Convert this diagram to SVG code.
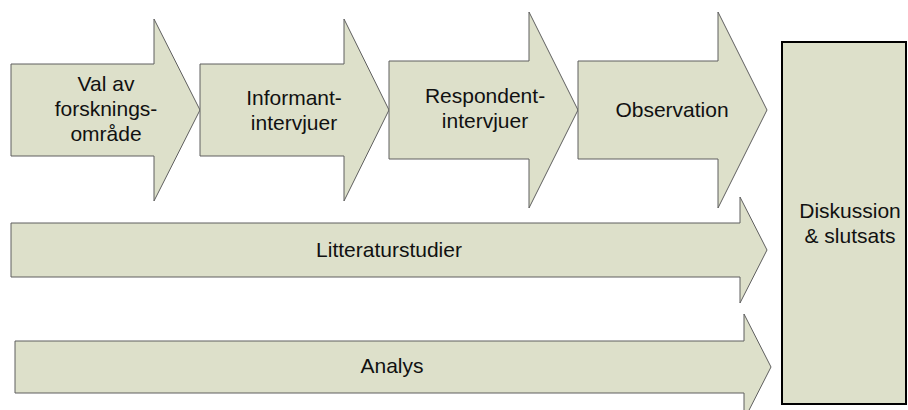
<svg xmlns="http://www.w3.org/2000/svg" width="908" height="410" viewBox="0 0 908 410">
<style>
.arr{fill:#DDE0CA;stroke:#5f5f5f;stroke-width:1}
.box{fill:#DDE0CA;stroke:#000;stroke-width:2}
text{font-family:"Liberation Sans",Arial,sans-serif;font-size:21px;fill:#111;text-anchor:middle}
</style>
<rect width="908" height="410" fill="#fff"/>
<g id="connectors"></g>
<g id="n1">
<polygon class="arr" points="11,64 154,64 154,19 200,110 154,201 154,156 11,156"/>
<text x="106" y="91">Val av</text>
<text x="106" y="116">forsknings-</text>
<text x="106" y="141">område</text>
</g>
<g id="n2">
<polygon class="arr" points="200,64 344,64 344,19 389,110 344,201 344,156 200,156"/>
<text x="294" y="105">Informant-</text>
<text x="294" y="130">intervjuer</text>
</g>
<g id="n3">
<polygon class="arr" points="389,61 529,61 529,12 578,110 529,208 529,159 389,159"/>
<text x="485" y="103">Respondent-</text>
<text x="485" y="128">intervjuer</text>
</g>
<g id="n4">
<polygon class="arr" points="578,61 718,61 718,12 767,110 718,208 718,159 578,159"/>
<text x="672" y="117">Observation</text>
</g>
<g id="n5">
<polygon class="arr" points="11,223 740,223 740,197 767,250 740,303 740,277 11,277"/>
<text x="389" y="257">Litteraturstudier</text>
</g>
<g id="n6">
<polygon class="arr" points="15,341 744,341 744,314 771,367 744,420 744,393 15,393"/>
<text x="392" y="373">Analys</text>
</g>
<g id="n7">
<rect class="box" x="782" y="42" width="124" height="362"/>
<text x="850" y="218">Diskussion</text>
<text x="850" y="243">&amp; slutsats</text>
</g>
</svg>
